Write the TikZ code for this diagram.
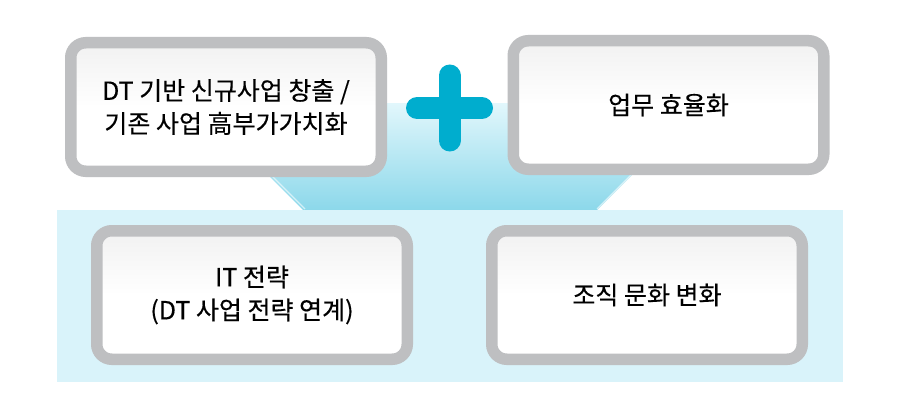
\documentclass[tikz,border=0pt]{standalone}
\usepackage{fontspec}
\newfontfamily\kr[FakeBold=0.4]{Noto Sans CJK KR}
\definecolor{bggray}{HTML}{BEBFC1}
\definecolor{bgcyan}{HTML}{D9F3FA}
\definecolor{trtop}{HTML}{E2F7FC}
\definecolor{trbot}{HTML}{8CD8EA}
\definecolor{pluscol}{HTML}{00ADCE}
\definecolor{inntop}{HTML}{F1F1F1}
\tikzset{
  box/.style={draw=bggray, line width=11.5pt, rounded corners=15pt,
    top color=inntop, bottom color=white, middle color=white,
    minimum width=310.5pt, minimum height=128.5pt, align=center,
    font=\kr\fontsize{25}{33}\selectfont, text=black, inner sep=0pt},
  plusbar/.style={draw=pluscol, line width=22pt, line cap=round}
}
\begin{document}
\begin{tikzpicture}[x=1pt,y=-1pt]
\useasboundingbox (0,0) rectangle (900,404);
\fill[white] (0,0) rectangle (900,404);
% trapezoid
\shade[top color=trtop, bottom color=trbot] (196,103) -- (704,103) -- (597,210) -- (303,210) -- cycle;
\draw[white, opacity=0.6, line width=1.2pt] (270,174) -- (305,209);
\draw[white, opacity=0.6, line width=1.2pt] (632,174) -- (597,209);
% background
\fill[bgcyan] (57,210) rectangle (843,382);
% boxes
\node[box] (a) at (226,107) {DT 기반 신규사업 창출 /\\기존 사업 高부가가치화};
\node[box] (b) at (668.5,105) {업무 효율화};
\node[box] (c) at (252,295) {IT 전략\\(DT 사업 전략 연계)};
\node[box] (d) at (647,295) {\raisebox{-4pt}{조직 문화 변화}};
% plus
\coordinate (pc) at (449.5,108);
\draw[plusbar] ([xshift=-32.5pt]pc) -- ([xshift=32.5pt]pc);
\draw[plusbar] ([yshift=32.5pt]pc) -- ([yshift=-32.5pt]pc);
\end{tikzpicture}
\end{document}
